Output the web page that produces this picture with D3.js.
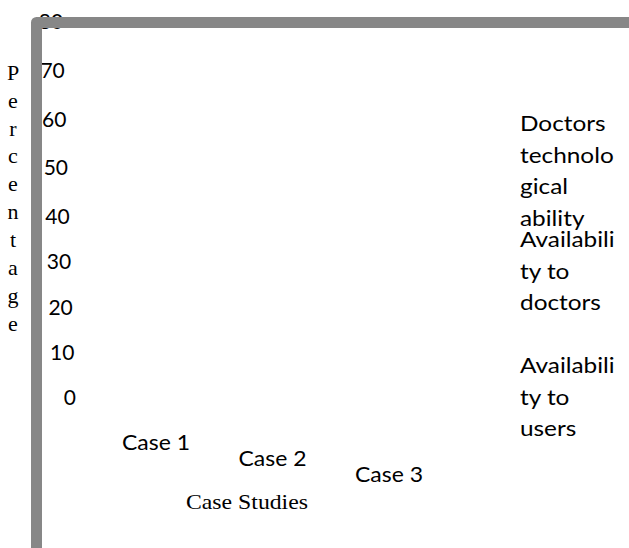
<!DOCTYPE html>
<html>
<head>
<meta charset="utf-8">
<script src="https://cdn.jsdelivr.net/npm/d3@7"></script>
<style>
  html, body { margin: 0; padding: 0; background: #fff; }
  svg { display: block; }
</style>
</head>
<body>
<script>
// ---- data ----
const categories = ["Case 1", "Case 2", "Case 3"];
const seriesNames = ["Doctors technological ability", "Availability to doctors", "Availability to users"];
const legendLines = [
  ["Doctors", "technolo", "gical", "ability"],
  ["Availabili", "ty to", "doctors"],
  ["Availabili", "ty to", "users"]
];
const yTicks = [0, 10, 20, 30, 40, 50, 60, 70, 80];
const yTitle = "Percentage";
const xTitle = "Case Studies";

// ---- layout ----
const W = 629, H = 548;
const svg = d3.select("body").append("svg").attr("width", W).attr("height", H);
svg.append("rect").attr("width", W).attr("height", H).attr("fill", "#fff");

const sans = "Lato, 'Open Sans', sans-serif";
const serif = "'Liberation Serif', 'DejaVu Serif', serif";

const y = d3.scaleLinear().domain([0, 40, 80]).range([397, 216, 21]);
const x = d3.scalePoint().domain(categories).range([156, 389]);

// y axis tick labels (staggered)
const yAxis = svg.append("g")
  .call(d3.axisLeft(y).tickValues(yTicks).tickSize(0).tickPadding(0).tickFormat(d3.format("d")));
yAxis.select(".domain").remove();
yAxis.selectAll(".tick text")
  .attr("x", d => 76 - d * 0.16)
  .attr("dy", "0.36em")
  .attr("text-anchor", "end")
  .attr("font-family", sans)
  .attr("font-size", 21)
  .attr("fill", "#000");

// y title as stacked letters
svg.append("g").selectAll("text")
  .data(yTitle.split(""))
  .join("text")
  .attr("x", 13)
  .attr("y", (d, i) => 72 + i * 27.9)
  .attr("dy", "0.35em")
  .attr("text-anchor", "middle")
  .attr("font-family", serif)
  .attr("font-size", 22)
  .text(d => d);

// x category labels (staggered)
svg.append("g").selectAll("text")
  .data(categories)
  .join("text")
  .attr("x", d => x(d))
  .attr("y", (d, i) => 443 + i * 16)
  .attr("dy", "0.35em")
  .attr("text-anchor", "middle")
  .attr("font-family", sans)
  .attr("font-size", 21)
  .attr("textLength", 68)
  .attr("lengthAdjust", "spacingAndGlyphs")
  .text(d => d);

// x title
svg.append("text")
  .attr("x", 247).attr("y", 502).attr("dy", "0.35em")
  .attr("text-anchor", "middle")
  .attr("font-family", serif)
  .attr("font-size", 21)
  .attr("textLength", 122)
  .attr("lengthAdjust", "spacingAndGlyphs")
  .text(xTitle);

// legend (wrapped text, no swatches)
const legendTop = [124, 240, 366];
const lg = svg.append("g")
  .attr("transform", "translate(520,0) scale(1.16,1)")
  .selectAll("g")
  .data(legendLines)
  .join("g")
  .attr("data-series", (d, i) => seriesNames[i]);
lg.selectAll("text")
  .data((d, i) => d.map((t, j) => ({ t, j, i })))
  .join("text")
  .attr("x", 0)
  .attr("y", d => legendTop[d.i] + d.j * 31.5)
  .attr("dy", "0.35em")
  .attr("font-family", sans)
  .attr("font-size", 21)
  .text(d => d.t);

// thick gray frame (top + left), drawn over the labels
svg.append("path")
  .attr("d", d3.line()([[36.5, H + 10], [36.5, 22.5], [W + 10, 22.5]]))
  .attr("fill", "none")
  .attr("stroke", "#878787")
  .attr("stroke-width", 11)
  .attr("stroke-linejoin", "round");
</script>
</body>
</html>
